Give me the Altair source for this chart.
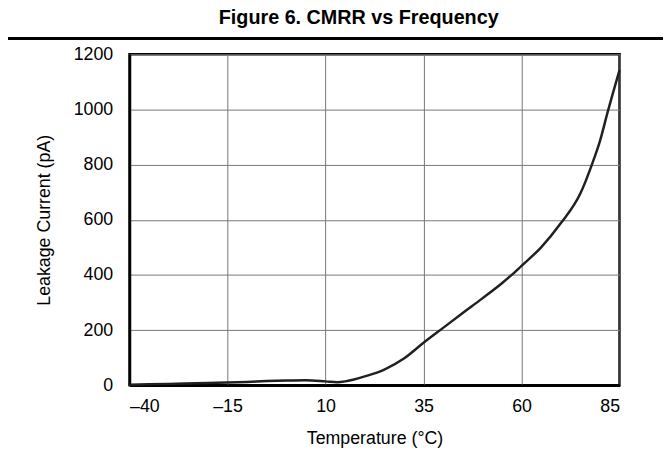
import altair as alt
import pandas as pd

temps = [-40, -30, -20, -10, -5, 0, 5, 10, 13, 15, 17, 20, 25, 30, 35, 40, 45, 50, 55, 57.5, 60, 65, 70, 75, 78, 80, 82, 85]
leak = [2, 5, 8, 12, 15, 17, 18, 14, 11, 14, 20, 32, 57, 97, 154, 208, 262, 315, 370, 400, 433, 500, 587, 695, 802, 885, 992, 1143]
x_ticks = [-40, -15, 10, 35, 60, 85]
y_ticks = [0, 200, 400, 600, 800, 1000, 1200]

df = pd.DataFrame({"t": temps, "i": leak})
FONT = "Liberation Sans"

line = alt.Chart(df).mark_line(color="#231f20", strokeWidth=2.5, interpolate="monotone").encode(
    x=alt.X("t:Q", scale=alt.Scale(domain=[-40, 85], nice=False),
            axis=alt.Axis(values=x_ticks, title="Temperature (°C)", grid=True,
                          labelExpr="datum.value < 0 ? '–' + format(-datum.value, 'd') : format(datum.value, 'd')",
                          ticks=False, labelPadding=13, titlePadding=14)),
    y=alt.Y("i:Q", scale=alt.Scale(domain=[0, 1200], nice=False),
            axis=alt.Axis(values=y_ticks, title="Leakage Current (pA)", grid=True, format="d",
                          ticks=False, labelPadding=17, titlePadding=20)),
)

sep = alt.Chart(df).mark_rule(color="black", strokeWidth=1.5).encode(
    x=alt.value(-131), x2=alt.value(560), y=alt.value(-16)
)

chart = alt.layer(sep, line).properties(
    width=496, height=335,
    autosize=alt.AutoSizeParams(type="none"),
    padding={"left": 123, "top": 44, "right": 44, "bottom": 88},
    title=alt.TitleParams("Figure 6. CMRR vs Frequency", font=FONT, fontSize=20,
                          fontWeight="bold", color="black", anchor="middle", dx=-16,
                          offset=10, frame="group"),
).configure_view(stroke="black", strokeWidth=2.5).configure_axis(
    labelFont=FONT, titleFont=FONT, labelFontSize=18, titleFontSize=18,
    labelColor="black", titleColor="black", titleFontWeight="normal",
    gridColor="#777777", gridWidth=1, gridOpacity=1,
    domainColor="black", domainWidth=2.5,
)

chart.save("out.html", embed_options={"renderer": "svg", "actions": False})
